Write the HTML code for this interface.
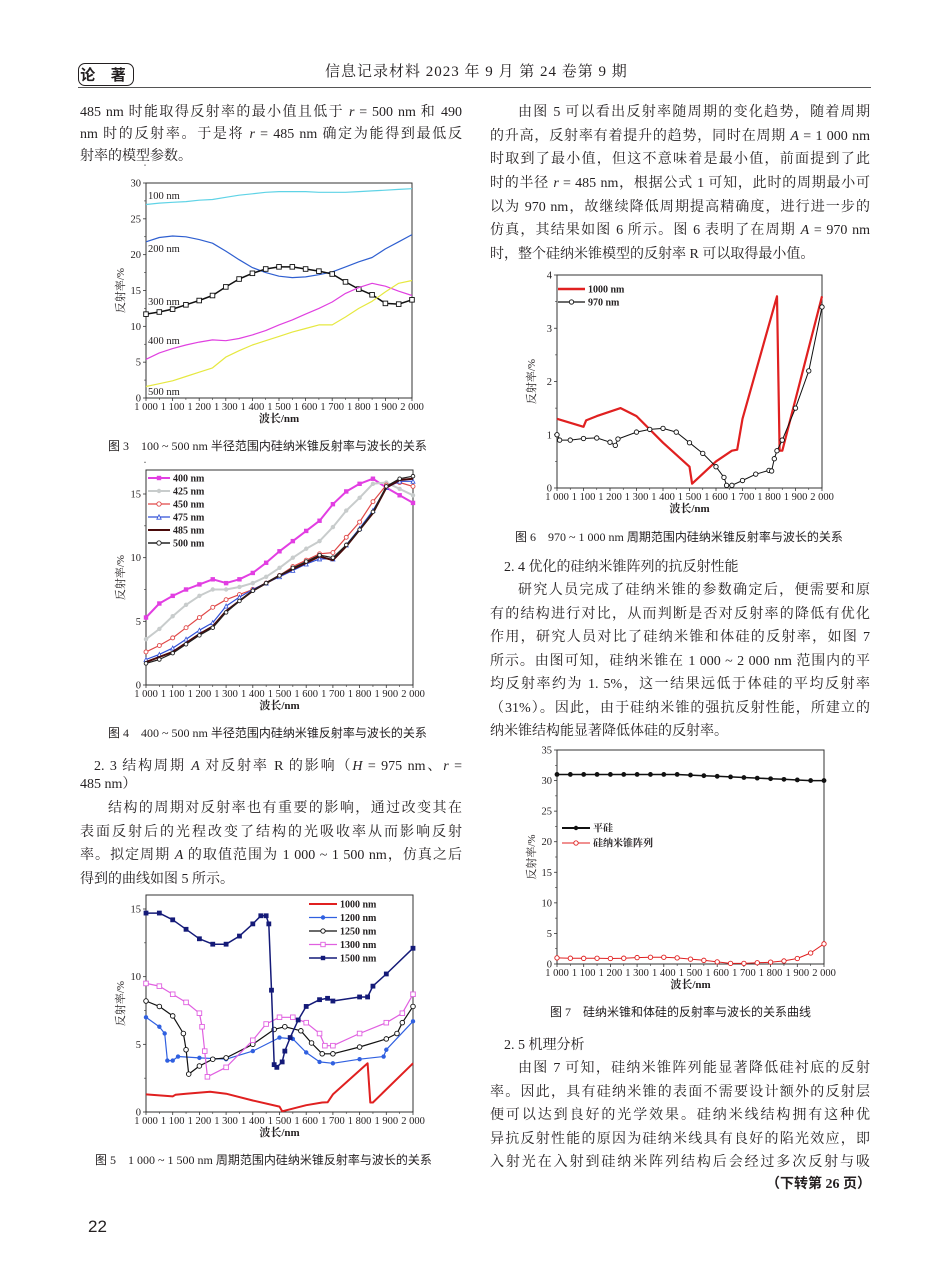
<!DOCTYPE html>
<html><head><meta charset="utf-8">
<style>
html,body{margin:0;padding:0;background:#fff;}
#page{position:relative;width:950px;height:1280px;overflow:hidden;font-family:"Liberation Serif","Noto Serif CJK SC",serif;color:#231f20;}
.t{position:absolute;font-size:14px;line-height:20px;white-space:nowrap;}
.j{text-align:justify;text-align-last:justify;white-space:normal;overflow:hidden;height:20px;}
.cap{position:absolute;font-size:12px;line-height:14px;white-space:nowrap;font-family:"Liberation Serif","Noto Sans CJK SC",serif;}
.h{font-family:"Liberation Sans","Noto Sans CJK SC",sans-serif;}
svg text{font-family:"Liberation Serif","Noto Serif CJK SC",serif;}
</style></head><body>
<div id="page">
<div style="position:absolute;left:78px;top:63px;width:54px;height:21px;border:1.5px solid #231f20;border-radius:7px;font:bold 15px 'Noto Sans CJK SC',sans-serif;line-height:21px;text-align:center;letter-spacing:6px;">论 著</div>
<div class="t" style="left:325px;top:62px;font-size:15px;letter-spacing:1px;">信息记录材料 2023 年 9 月 第 24 卷第 9 期</div>
<div style="position:absolute;left:78px;top:87px;width:793px;height:1px;background:#555;"></div>

<div class="t j" style="left:80px;top:103px;width:382px;">485 nm 时能取得反射率的最小值且低于 <i>r</i> = 500 nm 和 490</div>
<div class="t j" style="left:80px;top:125px;width:382px;">nm 时的反射率。于是将 <i>r</i> = 485 nm 确定为能得到最低反</div>
<div class="t" style="left:80px;top:147px;">射率的模型参数。</div>

<div class="t j" style="left:518px;top:103px;width:352px;">由图 5 可以看出反射率随周期的变化趋势，随着周期</div>
<div class="t j" style="left:490px;top:127px;width:380px;">的升高，反射率有着提升的趋势，同时在周期 <i>A</i> = 1 000 nm</div>
<div class="t j" style="left:490px;top:150px;width:380px;">时取到了最小值，但这不意味着是最小值，前面提到了此</div>
<div class="t j" style="left:490px;top:174px;width:380px;">时的半径 <i>r</i> = 485 nm，根据公式 1 可知，此时的周期最小可</div>
<div class="t j" style="left:490px;top:198px;width:380px;">以为 970 nm，故继续降低周期提高精确度，进行进一步的</div>
<div class="t j" style="left:490px;top:221px;width:380px;">仿真，其结果如图 6 所示。图 6 表明了在周期 <i>A</i> = 970 nm</div>
<div class="t" style="left:490px;top:245px;">时，整个硅纳米锥模型的反射率 R 可以取得最小值。</div>

<div class="cap" style="left:108px;top:439px;">图 3　100 ~ 500 nm 半径范围内硅纳米锥反射率与波长的关系</div>
<div class="cap" style="left:108px;top:726px;">图 4　400 ~ 500 nm 半径范围内硅纳米锥反射率与波长的关系</div>
<div class="cap" style="left:95px;top:1153px;">图 5　1 000 ~ 1 500 nm 周期范围内硅纳米锥反射率与波长的关系</div>
<div class="cap" style="left:515px;top:530px;">图 6　970 ~ 1 000 nm 周期范围内硅纳米锥反射率与波长的关系</div>
<div class="cap" style="left:550px;top:1005px;">图 7　硅纳米锥和体硅的反射率与波长的关系曲线</div>

<div class="t j" style="left:94px;top:757px;width:368px;">2. 3 结构周期 <i>A</i> 对反射率 R 的影响（<i>H</i> = 975 nm、<i>r</i> =</div>
<div class="t" style="left:80px;top:775px;">485 nm）</div>
<div class="t j" style="left:108px;top:799px;width:354px;">结构的周期对反射率也有重要的影响，通过改变其在</div>
<div class="t j" style="left:80px;top:823px;width:382px;">表面反射后的光程改变了结构的光吸收率从而影响反射</div>
<div class="t j" style="left:80px;top:846px;width:382px;">率。拟定周期 <i>A</i> 的取值范围为 1 000 ~ 1 500 nm，仿真之后</div>
<div class="t" style="left:80px;top:870px;">得到的曲线如图 5 所示。</div>

<div class="t" style="left:504px;top:558px;">2. 4 优化的硅纳米锥阵列的抗反射性能</div>
<div class="t j" style="left:518px;top:581px;width:352px;">研究人员完成了硅纳米锥的参数确定后，便需要和原</div>
<div class="t j" style="left:490px;top:605px;width:380px;">有的结构进行对比，从而判断是否对反射率的降低有优化</div>
<div class="t j" style="left:490px;top:628px;width:380px;">作用，研究人员对比了硅纳米锥和体硅的反射率，如图 7</div>
<div class="t j" style="left:490px;top:652px;width:380px;">所示。由图可知，硅纳米锥在 1 000 ~ 2 000 nm 范围内的平</div>
<div class="t j" style="left:490px;top:675px;width:380px;">均反射率约为 1. 5%，这一结果远低于体硅的平均反射率</div>
<div class="t j" style="left:490px;top:699px;width:380px;">（31%）。因此，由于硅纳米锥的强抗反射性能，所建立的</div>
<div class="t" style="left:490px;top:722px;">纳米锥结构能显著降低体硅的反射率。</div>

<div class="t" style="left:504px;top:1036px;">2. 5 机理分析</div>
<div class="t j" style="left:518px;top:1059px;width:352px;">由图 7 可知，硅纳米锥阵列能显著降低硅衬底的反射</div>
<div class="t j" style="left:490px;top:1083px;width:380px;">率。因此，具有硅纳米锥的表面不需要设计额外的反射层</div>
<div class="t j" style="left:490px;top:1106px;width:380px;">便可以达到良好的光学效果。硅纳米线结构拥有这种优</div>
<div class="t j" style="left:490px;top:1130px;width:380px;">异抗反射性能的原因为硅纳米线具有良好的陷光效应，即</div>
<div class="t j" style="left:490px;top:1153px;width:380px;">入射光在入射到硅纳米阵列结构后会经过多次反射与吸</div>
<div class="t" style="left:766px;top:1175px;font-weight:bold;font-family:'Liberation Serif','Noto Sans CJK SC',serif;">（下转第 26 页）</div>
<div class="t h" style="left:88px;top:1217px;font-size:17px;">22</div>

<svg id="charts" width="950" height="1280" style="position:absolute;left:0;top:0;" xmlns="http://www.w3.org/2000/svg"></svg>
</div>
<script>
// ===== Figure 3 data =====
const f3X = [1000,1050,1100,1150,1200,1250,1300,1350,1400,1450,1500,1550,1600,1650,1700,1750,1800,1850,1900,1950,2000];
const f3R100 = [27,27.2,27.3,27.4,27.6,27.7,28.0,28.3,28.5,28.7,28.8,28.8,28.8,28.7,28.7,28.7,28.8,28.9,29.0,29.1,29.2];
const f3R200 = [21.8,22.4,22.6,22.5,22.1,21.6,20.5,19.3,18.2,17.5,17.0,16.8,16.9,17.2,17.6,18.3,19.0,19.6,20.8,21.8,22.8];
const f3R300 = [11.7,12.0,12.4,13.0,13.6,14.3,15.5,16.6,17.4,18.0,18.3,18.3,18.0,17.7,17.3,16.2,15.2,14.4,13.2,13.1,13.7];
const f3R400 = [5.4,6.3,6.9,7.4,7.8,8.1,8.0,8.3,8.8,9.4,10.2,10.9,11.7,12.5,13.4,14.6,15.4,16.0,15.6,14.9,14.3];
const f3R500 = [1.6,2.0,2.4,3.0,3.6,4.2,5.7,6.6,7.4,8.0,8.6,9.2,9.7,10.2,10.2,11.3,12.5,13.5,14.8,16.0,16.4];
const f3Labels = ["100 nm","200 nm","300 nm","400 nm","500 nm"];
// ===== Figure 4 data =====
const f4X = [1000,1050,1100,1150,1200,1250,1300,1350,1400,1450,1500,1550,1600,1650,1700,1750,1800,1850,1900,1950,2000];
const f4R400 = [5.3,6.4,7.0,7.5,7.9,8.3,8.0,8.3,8.8,9.6,10.5,11.3,12.1,12.9,14.2,15.2,15.8,16.2,15.5,14.9,14.3];
const f4R425 = [3.6,4.4,5.4,6.3,7.0,7.5,7.5,7.7,8.0,8.5,9.2,10.0,10.7,11.3,12.4,13.7,14.7,15.8,15.9,15.4,14.9];
const f4R450 = [2.6,3.1,3.7,4.5,5.3,6.1,6.7,7.1,7.5,8.0,8.6,9.3,9.8,10.3,10.4,11.6,12.8,14.4,15.7,15.9,15.6];
const f4R475 = [2.0,2.4,2.9,3.6,4.3,4.9,6.2,6.9,7.5,8.0,8.5,9.0,9.5,9.9,9.9,11.0,12.3,13.7,15.5,16.0,16.0];
const f4R485 = [1.8,2.2,2.6,3.3,4.0,4.6,5.8,6.6,7.4,8.0,8.6,9.1,9.6,10.1,9.8,10.9,12.2,13.5,15.5,16.1,16.2];
const f4R500 = [1.7,2.0,2.5,3.2,3.9,4.5,5.7,6.6,7.4,8.0,8.6,9.2,9.7,10.2,10.0,11.0,12.2,13.6,15.6,16.2,16.4];
const f4Labels = ["400 nm","425 nm","450 nm","475 nm","485 nm","500 nm"];
// ===== Figure 5 data =====
const f5X1000 = [1000,1100,1110,1150,1240,1300,1400,1500,1510,1600,1660,1680,1700,1830,1840,1850,2000];
const f5R1000 = [1.3,1.15,1.27,1.35,1.5,1.35,0.85,0.4,0.05,0.5,0.7,0.72,1.3,3.6,0.7,0.7,3.6];
const f5X1200 = [1000,1050,1070,1080,1100,1120,1200,1300,1400,1500,1550,1600,1650,1700,1800,1890,1900,2000];
const f5R1200 = [7.0,6.3,5.8,3.8,3.8,4.1,4.0,3.9,4.5,5.5,5.4,4.4,3.7,3.6,3.9,4.1,4.6,6.7];
const f5X1250 = [1000,1050,1100,1140,1150,1160,1200,1250,1300,1400,1480,1520,1580,1620,1660,1700,1800,1900,1940,1960,2000];
const f5R1250 = [8.2,7.8,7.1,5.8,4.6,2.8,3.4,3.9,4.0,5.0,6.1,6.3,6.0,5.1,4.3,4.3,4.8,5.4,5.8,6.6,7.8];
const f5X1300 = [1000,1050,1100,1150,1200,1210,1220,1230,1300,1400,1450,1500,1550,1600,1650,1670,1700,1800,1900,1960,2000];
const f5R1300 = [9.5,9.3,8.7,8.1,7.3,6.3,4.5,2.6,3.3,5.3,6.5,7.0,7.0,6.6,5.8,4.9,4.9,5.8,6.6,7.3,8.7];
const f5X1500 = [1000,1050,1100,1150,1200,1250,1300,1350,1400,1430,1450,1460,1470,1480,1490,1510,1520,1540,1570,1600,1650,1680,1700,1800,1830,1850,1900,2000];
const f5R1500 = [14.7,14.7,14.2,13.5,12.8,12.4,12.4,13.0,13.9,14.5,14.5,13.9,9.0,3.5,3.3,3.7,4.5,5.5,6.8,7.8,8.3,8.4,8.2,8.5,8.5,9.3,10.2,12.1];
const f5Labels = ["1000 nm","1200 nm","1250 nm","1300 nm","1500 nm"];
// ===== Figure 6 data =====
const f6X1000 = [1000,1100,1110,1150,1240,1300,1400,1500,1510,1600,1660,1680,1700,1830,1840,1850,2000];
const f6R1000 = [1.3,1.15,1.27,1.35,1.5,1.35,0.85,0.4,0.08,0.5,0.7,0.72,1.3,3.6,0.7,0.7,3.6];
const f6X970 = [1000,1010,1050,1100,1150,1200,1220,1230,1300,1350,1400,1450,1500,1550,1600,1630,1640,1660,1700,1750,1800,1810,1820,1830,1850,1900,1950,2000];
const f6R970 = [1.0,0.9,0.9,0.93,0.94,0.86,0.8,0.92,1.05,1.1,1.12,1.05,0.85,0.65,0.4,0.2,0.05,0.05,0.14,0.26,0.33,0.32,0.55,0.7,0.9,1.5,2.2,3.4];
const f6Labels = ["1000 nm","970 nm"];
// ===== Figure 7 data =====
const f7X = [1000,1050,1100,1150,1200,1250,1300,1350,1400,1450,1500,1550,1600,1650,1700,1750,1800,1850,1900,1950,2000];
const f7Flat = [31,31,31,31,31,31,31,31,31,31,30.9,30.8,30.7,30.6,30.5,30.4,30.3,30.2,30.1,30.0,30.0];
const f7Cone = [1.0,0.95,0.93,0.94,0.9,0.95,1.05,1.1,1.1,1.0,0.8,0.6,0.35,0.1,0.1,0.2,0.3,0.5,0.9,1.8,3.3];
const f7Labels = ["平硅","硅纳米锥阵列"];
const xTickVals = [1000,1100,1200,1300,1400,1500,1600,1700,1800,1900,2000];
const xTickLabels = ["1 000","1 100","1 200","1 300","1 400","1 500","1 600","1 700","1 800","1 900","2 000"];

const NS="http://www.w3.org/2000/svg";
const svg=document.getElementById('charts');
function mk(tag,attrs,parent){const e=document.createElementNS(NS,tag);for(const k in attrs)e.setAttribute(k,attrs[k]);(parent||svg).appendChild(e);return e;}

function makeChart(name,L,R,B,T,ymax,yStep,yTop){
  const g=mk('g',{});
  
  
  const c={g,L,R,B,ymax,sx:v=>L+(v-1000)/1000*(R-L),sy:v=>B-v/ymax*(B-T)};
  const fr=mk('rect',{x:L,y:yTop,width:R-L,height:B-yTop,fill:'none',stroke:'#333','stroke-width':1},g);
  
  
  xTickVals.forEach((v,i)=>{
    const x=c.sx(v);
    mk('line',{x1:x,y1:B,x2:x,y2:B+3,stroke:'#333','stroke-width':0.8},g);
    if(i<10) mk('line',{x1:x+(R-L)/20,y1:B,x2:x+(R-L)/20,y2:B+2,stroke:'#333','stroke-width':0.6},g);
    const t=mk('text',{x:x,y:B+12,'font-size':10.5,'text-anchor':'middle',fill:'#231f20'},g);
    t.textContent=xTickLabels[i];
    
    
  });
  for(let v=0;v<=ymax+1e-9;v+=yStep){
    const y=c.sy(v);
    mk('line',{x1:L-3,y1:y,x2:L,y2:y,stroke:'#333','stroke-width':0.8},g);
    mk('line',{x1:L-2,y1:c.sy(v+yStep/2),x2:L,y2:c.sy(v+yStep/2),stroke:'#333','stroke-width':0.6},g);
    const t=mk('text',{x:L-5,y:y+3.5,'font-size':10.5,'text-anchor':'end',fill:'#231f20'},g);
    t.textContent=String(v);
    
    
  }
  const xt=mk('text',{x:(L+R)/2,y:B+24,'font-size':11,'font-weight':'bold','text-anchor':'middle',fill:'#231f20'},g);
  xt.textContent='波长/nm';
  
  
  const ym=(B+yTop)/2;
  const yt=mk('text',{x:L-22,y:ym,'font-size':11,'text-anchor':'middle',fill:'#231f20',transform:`rotate(-90 ${L-22} ${ym})`},g);
  yt.textContent='反射率/%';
  
  
  return c;
}
function marker(g,type,x,y,color,size){
  const s=size||2.2;
  if(type==='sq') mk('rect',{x:x-s,y:y-s,width:2*s,height:2*s,fill:'#fff',stroke:color,'stroke-width':0.9},g);
  else if(type==='sqf') mk('rect',{x:x-s,y:y-s,width:2*s,height:2*s,fill:color},g);
  else if(type==='c') mk('circle',{cx:x,cy:y,r:s,fill:'#fff',stroke:color,'stroke-width':0.9},g);
  else if(type==='cf') mk('circle',{cx:x,cy:y,r:s,fill:color},g);
  else if(type==='tri') mk('polygon',{points:`${x},${y-s} ${x-s},${y+s} ${x+s},${y+s}`,fill:'#fff',stroke:color,'stroke-width':0.8},g);
}
function series(c,name,xs,ys,color,w,mtype,ms){
  const g=mk('g',{},c.g);
  
  
  const pts=xs.map((x,i)=>c.sx(x).toFixed(1)+','+c.sy(ys[i]).toFixed(1)).join(' ');
  mk('polyline',{points:pts,fill:'none',stroke:color,'stroke-width':w,'stroke-linejoin':'round'},g);
  if(mtype) xs.forEach((x,i)=>marker(g,mtype,c.sx(x),c.sy(ys[i]),color,ms));
}
function legend(c,items,lx1,lx2,y0,dy){
  const g=mk('g',{},c.g);
  
  
  items.forEach((it,i)=>{
    const y=y0+i*dy;
    const e=mk('g',{},g);
    
    
    mk('line',{x1:lx1,y1:y,x2:lx2,y2:y,stroke:it.color,'stroke-width':it.w},e);
    if(it.m) marker(e,it.m,(lx1+lx2)/2,y,it.color,it.ms);
    const t=mk('text',{x:lx2+3,y:y+3.5,'font-size':10,'font-weight':'bold',fill:'#231f20'},e);
    t.textContent=it.label;
  });
}
// Figure 3
const c3=makeChart('figure-3-chart',146,412,398,183,30,5,183);
series(c3,'series-100nm',f3X,f3R100,'#5fd3e6',1.2);
series(c3,'series-200nm',f3X,f3R200,'#2f5fd0',1.2);
series(c3,'series-300nm',f3X,f3R300,'#111',1.5,'sq',2.3);
series(c3,'series-400nm',f3X,f3R400,'#e040e0',1.2);
series(c3,'series-500nm',f3X,f3R500,'#e6e840',1.2);
[196,249,302,341,392].forEach((y,i)=>{const t=mk('text',{x:148,y:y+3,'font-size':10.5,fill:'#231f20'},c3.g);t.textContent=f3Labels[i];});
// Figure 4
const c4=makeChart('figure-4-chart',146,413,685,494,15,5,470);
c4.sy=v=>685-v*(685-494)/15;
series(c4,'series-400nm',f4X,f4R400,'#e23ee2',2,'sqf',2.2);
series(c4,'series-425nm',f4X,f4R425,'#c8cccc',2,'cf',2.2);
series(c4,'series-450nm',f4X,f4R450,'#e04848',1.2,'c',2);
series(c4,'series-475nm',f4X,f4R475,'#3050d8',1.2,'tri',2);
series(c4,'series-485nm',f4X,f4R485,'#4a0a0a',2);
series(c4,'series-500nm',f4X,f4R500,'#222',1.2,'c',1.8);
legend(c4,[{label:f4Labels[0],color:'#e23ee2',w:2,m:'sqf'},{label:f4Labels[1],color:'#c8cccc',w:2,m:'cf'},{label:f4Labels[2],color:'#e04848',w:1.2,m:'c'},{label:f4Labels[3],color:'#3050d8',w:1.2,m:'tri'},{label:f4Labels[4],color:'#4a0a0a',w:2},{label:f4Labels[5],color:'#222',w:1.5,m:'c'}],148,170,478,13);
// Figure 5
const c5=makeChart('figure-5-chart',146,413,1112,909,15,5,895);
c5.sy=v=>1112-v*(1112-909)/15;
series(c5,'series-1000nm',f5X1000,f5R1000,'#e02020',2);
series(c5,'series-1200nm',f5X1200,f5R1200,'#3060e0',1.2,'cf',2.2);
series(c5,'series-1250nm',f5X1250,f5R1250,'#111',1.2,'c',2.3);
series(c5,'series-1300nm',f5X1300,f5R1300,'#e060e0',1.2,'sq',2.3);
series(c5,'series-1500nm',f5X1500,f5R1500,'#141a78',1.5,'sqf',2.4);
legend(c5,[{label:f5Labels[0],color:'#e02020',w:2},{label:f5Labels[1],color:'#3060e0',w:1.2,m:'cf'},{label:f5Labels[2],color:'#111',w:1.2,m:'c'},{label:f5Labels[3],color:'#e060e0',w:1.2,m:'sq'},{label:f5Labels[4],color:'#141a78',w:1.5,m:'sqf'}],309,337,904,13.5);
// Figure 6
const c6=makeChart('figure-6-chart',557,822,488,275,4,1,275);
series(c6,'series-1000nm',f6X1000,f6R1000,'#e02020',2.2);
series(c6,'series-970nm',f6X970,f6R970,'#111',1,'c',2.2);
legend(c6,[{label:f6Labels[0],color:'#e02020',w:2.5},{label:f6Labels[1],color:'#111',w:1.2,m:'c'}],558,585,289,13);
// Figure 7
const c7=makeChart('figure-7-chart',557,824,964,750,35,5,750);
series(c7,'series-flat-silicon',f7X,f7Flat,'#111',1.5,'cf',2.4);
series(c7,'series-nanocone-array',f7X,f7Cone,'#e02020',1,'c',2.2);
legend(c7,[{label:f7Labels[0],color:'#111',w:2,m:'cf'},{label:f7Labels[1],color:'#e02020',w:1,m:'c'}],562,590,828,15);
</script>
</body></html>
